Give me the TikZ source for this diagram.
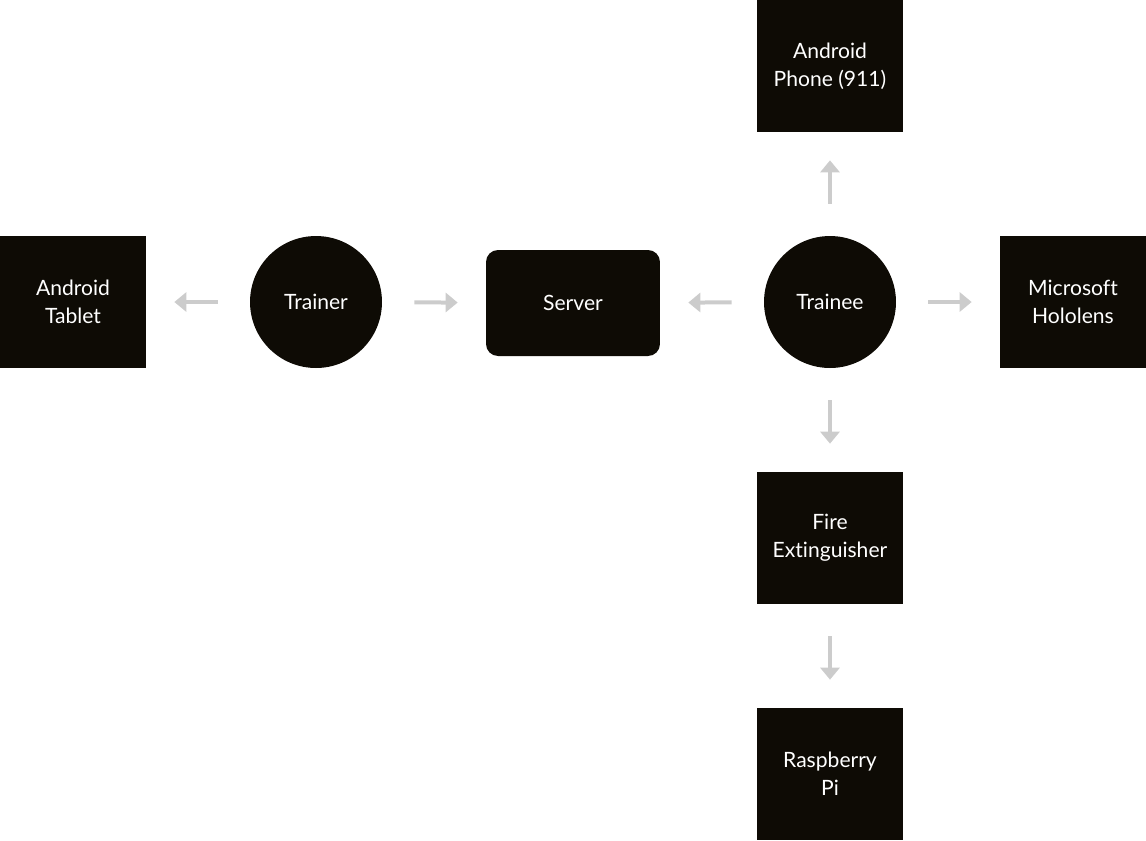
\documentclass[tikz,border=0pt]{standalone}
\usepackage{fontspec}
\setmainfont[Ligatures=NoCommon]{Lato}
\usepackage{xcolor}
\usetikzlibrary{positioning, arrows.meta}
\definecolor{boxfill}{RGB}{14,11,5}
\definecolor{arrowgray}{RGB}{204,204,204}

\begin{document}
\begin{tikzpicture}[x=0.02cm, y=-0.02cm,
  every node/.style={text=white, font=\fontsize{12}{16}\selectfont, align=center, inner sep=0pt},
  devbox/.style={fill=boxfill, minimum width=2.92cm, minimum height=2.64cm},
  person/.style={circle, fill=boxfill, minimum size=2.64cm},
  serverbox/.style={fill=boxfill, rounded corners=0.24cm, minimum width=3.48cm, minimum height=2.12cm},
  flow/.style={draw=arrowgray, line width=0.08cm, -{Triangle[length=0.24cm, width=0.38cm]}, shorten <=0.64cm, shorten >=0.56cm}]
\useasboundingbox (0, 0) rectangle (1146, 840);
% middle row
\node [person] (trainer) at (316, 302) {Trainer};
\node [serverbox] (server) at (573, 303) {Server};
\node [person] (trainee) at (830, 302) {Trainee};
\node [devbox] (tablet) at (73, 302) {Android\\Tablet};
\node [devbox] (hololens) at (1073, 302) {Microsoft\\Hololens};
% column under and over the trainee
\node [devbox] (phone) at (830, 66) {Android\\Phone (911)};
\node [devbox] (extinguisher) at (830, 538) {Fire\\Extinguisher};
\node [devbox] (raspi) at (830, 774) {Raspberry\\Pi};
% arrows
\draw [flow] (trainer) -- (tablet);
\draw [flow] (trainer) -- (server);
\draw [flow] (trainee) -- (server);
\draw [flow] (trainee) -- (hololens);
\draw [flow] (trainee) -- (phone);
\draw [flow] (trainee) -- (extinguisher);
\draw [flow] (extinguisher) -- (raspi);
\end{tikzpicture}
\end{document}
